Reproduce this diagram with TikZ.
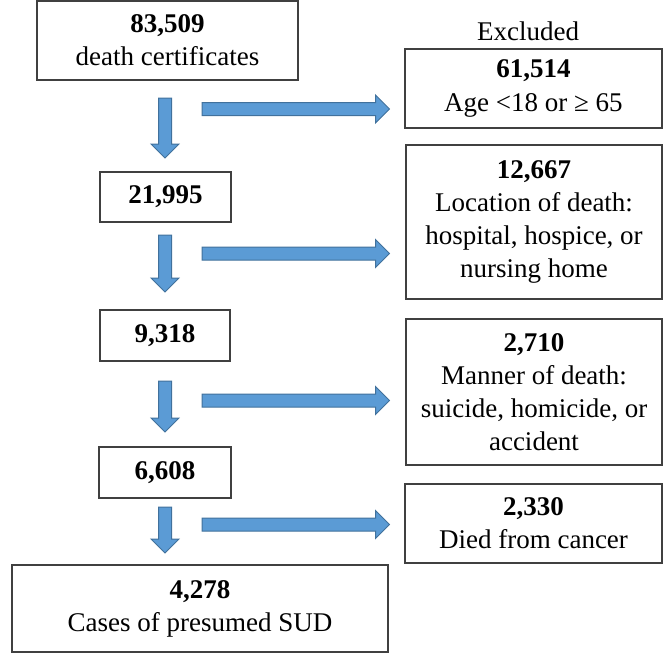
\documentclass[tikz,border=0pt]{standalone}
\usepackage{fontspec}
\setmainfont{Liberation Serif}
\usepackage{tikz}
\usetikzlibrary{calc}

\definecolor{arrowfill}{RGB}{91,155,213}
\definecolor{arrowline}{RGB}{65,113,156}

\begin{document}
\begin{tikzpicture}[
    x=0.5pt, y=-0.5pt,
    every node/.style={font=\fontsize{13.5}{16.6}\selectfont},
    stage/.style={rectangle, draw=black!75, line width=0.7pt, fill=white, inner sep=0pt, align=center},
    fat/.style={draw=arrowline, fill=arrowfill, line width=0.5pt, line join=miter,
        to path={
            ($(\tikztotarget)!7pt!(\tikztostart)$) coordinate (hb)
            ($(\tikztostart)!3.25pt!90:(\tikztotarget)$) -- ($(hb)!3.25pt!90:(\tikztotarget)$)
            -- ($(hb)!7pt!90:(\tikztotarget)$) -- (\tikztotarget)
            -- ($(hb)!7pt!-90:(\tikztotarget)$) -- ($(hb)!3.25pt!-90:(\tikztotarget)$)
            -- ($(\tikztostart)!3.25pt!-90:(\tikztotarget)$) -- cycle}}
]
\useasboundingbox (0,0) rectangle (664,654);

% main column
\node[stage, minimum width=130.5pt, minimum height=39.5pt] (certs) at (167.5,40.5) {\textbf{83,509}\\death certificates};
\node[stage, minimum width=65.5pt, minimum height=25pt] (adults) at (165.5,197) {\textbf{21,995}};
\node[stage, minimum width=65pt, minimum height=25.5pt] (location) at (165,335.5) {\textbf{9,318}};
\node[stage, minimum width=66pt, minimum height=25.5pt] (manner) at (165,472.5) {\textbf{6,608}};
\node[stage, minimum width=188pt, minimum height=43.5pt] (sud) at (200,608.5) {\textbf{4,278}\\Cases of presumed SUD};

% excluded column
\node (excl) at (528,31) {Excluded};
\node[stage, minimum width=128.5pt, minimum height=39.5pt] (age) at (533.5,88.5) {\textbf{61,514}\\Age <18 or ≥ 65};
\node[stage, minimum width=128pt, minimum height=77pt] (place) at (534,222) {\textbf{12,667}\\Location of death:\\hospital, hospice, or\\nursing home};
\node[stage, minimum width=128pt, minimum height=73pt] (mode) at (534,392) {\textbf{2,710}\\Manner of death:\\suicide, homicide, or\\accident};
\node[stage, minimum width=128.5pt, minimum height=39.5pt] (cancer) at (533.5,523.5) {\textbf{2,330}\\Died from cancer};

% block arrows
\foreach \n/\ya/\yb in {1/98/158, 2/235/292, 3/381/432, 4/507/553} {
    \coordinate (dn\n a) at (165,\ya);
    \coordinate (dn\n b) at (165,\yb);
    \draw[fat] (dn\n a) to (dn\n b);
}
\foreach \n/\y in {1/109, 2/253.5, 3/400.5, 4/524.5} {
    \coordinate (rt\n a) at (202,\y);
    \coordinate (rt\n b) at (389.5,\y);
    \draw[fat] (rt\n a) to (rt\n b);
}

\end{tikzpicture}
\end{document}
